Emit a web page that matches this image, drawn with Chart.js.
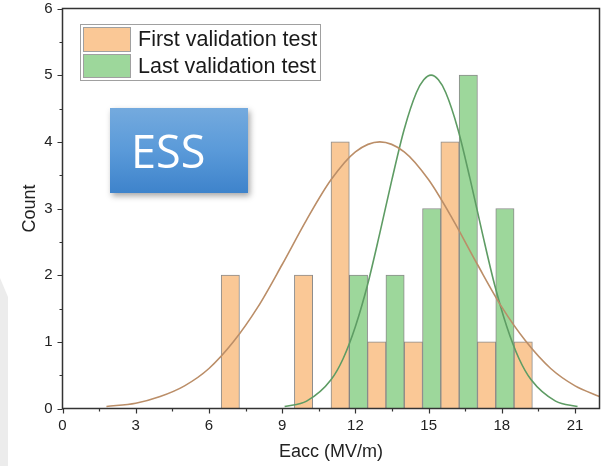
<!DOCTYPE html>
<html>
<head>
<meta charset="utf-8">
<script src="https://cdn.jsdelivr.net/npm/chart.js@4.4.1/dist/chart.umd.min.js"></script>
<style>
  html, body { margin: 0; padding: 0; background: #ffffff; }
  #wrap { width: 612px; height: 466px; position: relative; }
</style>
</head>
<body>
<div id="wrap"><canvas id="c" width="612" height="466"></canvas></div>
<script>
// ---- data ----
const binCenters = [7.25, 8.75, 10.25, 11.75, 13.25, 14.75, 16.25, 17.75, 19.25];
const firstCounts = [2, 0, 2, 4, 1, 1, 4, 1, 1];
const lastCounts  = [0, 0, 0, 2, 2, 3, 5, 3, 0];

const firstCurveX = [1.8, 3, 4, 5, 6, 7, 8, 9, 10, 11, 12, 13, 14, 15, 16, 17, 18, 19, 20, 21, 22];
const firstCurveY = [0.03, 0.08, 0.18, 0.34, 0.60, 1.00, 1.52, 2.16, 2.83, 3.43, 3.85, 4.00, 3.85, 3.43, 2.83, 2.16, 1.52, 1.00, 0.60, 0.34, 0.18];

const lastCurveX = [9.1, 10, 11, 11.5, 12, 12.5, 13, 13.5, 14, 14.5, 14.8, 15.1, 15.4, 15.7, 16.2, 16.7, 17.2, 17.7, 18.2, 18.7, 19.2, 20.2, 21.1];
const lastCurveY = [0.03, 0.11, 0.43, 0.75, 1.23, 1.86, 2.63, 3.44, 4.19, 4.74, 4.93, 5.00, 4.93, 4.74, 4.19, 3.44, 2.63, 1.86, 1.23, 0.75, 0.43, 0.11, 0.03];

const seriesLabels = ['First validation test', 'Last validation test'];
const xTickValues = [0, 3, 6, 9, 12, 15, 18, 21];
const yTickValues = [0, 1, 2, 3, 4, 5, 6];
const xTitle = 'Eacc (MV/m)';
const yTitle = 'Count';
const badgeText = 'ESS';

// ---- styles ----
const FONT = "'Liberation Sans', Arial, sans-serif";
const orangeFill = '#fac896';
const greenFill = '#9dd79b';
const barBorder = 'rgba(120,120,120,0.85)';
const orangeLine = '#bb8e68';
const greenLine = '#5e9c64';
const axisColor = '#333333';

const toPts = (xs, ys) => xs.map((x, i) => ({ x: x, y: ys[i] }));

const deco = {
  id: 'deco',
  beforeDraw(chart) {
    const ctx = chart.ctx;
    ctx.save();
    ctx.fillStyle = '#ffffff';
    ctx.fillRect(0, 0, chart.width, chart.height);
    ctx.fillStyle = '#ececec';
    ctx.beginPath();
    ctx.moveTo(0, 278);
    ctx.lineTo(8, 297);
    ctx.lineTo(8, 466);
    ctx.lineTo(0, 466);
    ctx.closePath();
    ctx.fill();
    ctx.restore();
  },
  afterDraw(chart) {
    const ctx = chart.ctx;
    const a = chart.chartArea;
    const xs = chart.scales.x, ys = chart.scales.y;
    ctx.save();
    // frame
    ctx.strokeStyle = axisColor;
    ctx.lineWidth = 1.5;
    ctx.strokeRect(a.left, a.top, a.right - a.left, a.bottom - a.top);
    // ticks
    ctx.lineWidth = 1.2;
    ctx.beginPath();
    for (let v = 0; v <= 21.01; v += 1.5) {
      const px = Math.round(xs.getPixelForValue(v)) + 0.5;
      const len = (Math.abs(v / 3 - Math.round(v / 3)) < 1e-6) ? 5 : 3;
      ctx.moveTo(px, a.bottom);
      ctx.lineTo(px, a.bottom + len);
    }
    for (let v = 0; v <= 6.01; v += 0.5) {
      const py = Math.round(ys.getPixelForValue(v)) + 0.5;
      const len = (Math.abs(v - Math.round(v)) < 1e-6) ? 5 : 3;
      ctx.moveTo(a.left, py);
      ctx.lineTo(a.left - len, py);
    }
    ctx.stroke();

    // legend
    ctx.fillStyle = '#ffffff';
    ctx.fillRect(80.5, 24.5, 240, 56);
    ctx.strokeStyle = '#a0a0a0';
    ctx.lineWidth = 1;
    ctx.strokeRect(80.5, 24.5, 240, 56);
    const sw = [[orangeFill, 27.5, 24], [greenFill, 54.5, 23]];
    ctx.font = '21.5px ' + FONT;
    ctx.textBaseline = 'middle';
    ctx.textAlign = 'left';
    sw.forEach((s, i) => {
      ctx.fillStyle = s[0];
      ctx.fillRect(83.5, s[1], 47, s[2]);
      ctx.strokeStyle = '#a0a0a0';
      ctx.strokeRect(83.5, s[1], 47, s[2]);
      ctx.fillStyle = '#1a1a1a';
      ctx.fillText(seriesLabels[i], 138, s[1] + s[2] / 2 + 1);
    });

    // ESS badge
    ctx.save();
    ctx.shadowColor = 'rgba(0,0,0,0.35)';
    ctx.shadowBlur = 6;
    ctx.shadowOffsetX = 2;
    ctx.shadowOffsetY = 3;
    const g = ctx.createLinearGradient(0, 108, 0, 193);
    g.addColorStop(0, '#74aade');
    g.addColorStop(0.5, '#5a9ad9');
    g.addColorStop(1, '#3e83cb');
    ctx.fillStyle = g;
    ctx.fillRect(110, 108, 138, 85);
    ctx.restore();
    ctx.fillStyle = '#ffffff';
    ctx.font = "45px 'Open Sans', 'Noto Sans', sans-serif";
    ctx.textBaseline = 'alphabetic';
    ctx.fillText(badgeText, 131, 168);
    ctx.restore();
  }
};

new Chart(document.getElementById('c'), {
  type: 'bar',
  data: {
    datasets: [
      {
        type: 'line', label: seriesLabels[0] + ' fit',
        data: toPts(firstCurveX, firstCurveY),
        borderColor: orangeLine, borderWidth: 1.6, pointRadius: 0,
        cubicInterpolationMode: 'monotone', fill: false, order: 0
      },
      {
        type: 'line', label: seriesLabels[1] + ' fit',
        data: toPts(lastCurveX, lastCurveY),
        borderColor: greenLine, borderWidth: 1.6, pointRadius: 0,
        cubicInterpolationMode: 'monotone', fill: false, order: 0
      },
      {
        label: seriesLabels[0],
        data: toPts(binCenters, firstCounts),
        backgroundColor: orangeFill, borderColor: barBorder, borderWidth: 1,
        barPercentage: 1, categoryPercentage: 1, order: 1
      },
      {
        label: seriesLabels[1],
        data: toPts(binCenters, lastCounts),
        backgroundColor: greenFill, borderColor: barBorder, borderWidth: 1,
        barPercentage: 1, categoryPercentage: 1, order: 1
      }
    ]
  },
  options: {
    responsive: false,
    animation: false,
    layout: { padding: { top: 8.5, right: 12.5, left: 0, bottom: 0 } },
    plugins: { legend: { display: false }, tooltip: { enabled: false } },
    scales: {
      x: {
        type: 'linear', min: 0, max: 22, offset: false,
        grid: { display: false, drawTicks: false },
        border: { display: false },
        afterBuildTicks: (s) => { s.ticks = xTickValues.map(v => ({ value: v })); },
        ticks: { padding: 8, color: '#222', font: { family: FONT, size: 15 }, maxRotation: 0, autoSkip: false },
        title: { display: true, text: xTitle, color: '#222', font: { family: FONT, size: 18 }, padding: 3 },
        afterFit: (s) => { s.height = 57.5; s.paddingLeft = 0; s.paddingRight = 0; }
      },
      y: {
        min: 0, max: 6,
        grid: { display: false, drawTicks: false },
        border: { display: false },
        afterBuildTicks: (s) => { s.ticks = yTickValues.map(v => ({ value: v })); },
        ticks: { padding: 10, color: '#222', font: { family: FONT, size: 15 } },
        title: { display: true, text: yTitle, color: '#222', font: { family: FONT, size: 18 }, padding: 19 },
        afterFit: (s) => { s.width = 62.5; s.paddingTop = 0; s.paddingBottom = 0; }
      }
    }
  },
  plugins: [deco]
});
</script>
</body>
</html>
